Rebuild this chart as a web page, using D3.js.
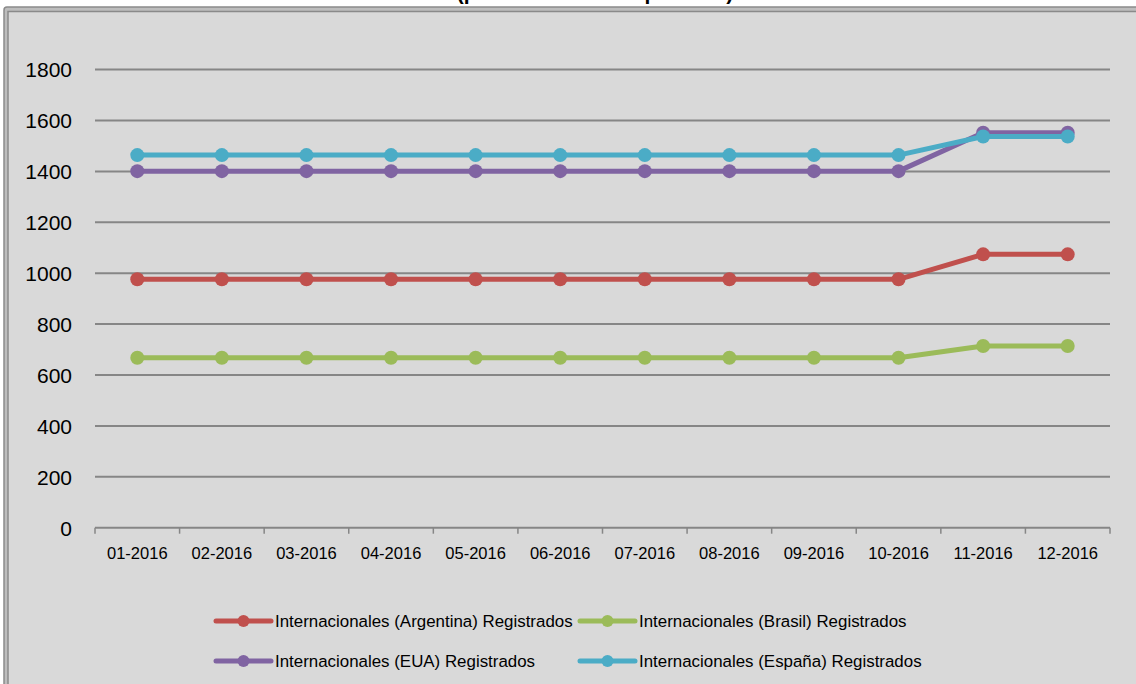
<!DOCTYPE html>
<html><head><meta charset="utf-8">
<script src="https://cdn.jsdelivr.net/npm/d3@7"></script>
<style>html,body{margin:0;padding:0;background:#fff;}svg{display:block;}</style>
</head><body>
<svg id="chart" width="1136" height="684"></svg>
<script>
const titleText = "(pesos mexicanos por mes)";
const categories = ["01-2016","02-2016","03-2016","04-2016","05-2016","06-2016","07-2016","08-2016","09-2016","10-2016","11-2016","12-2016"];
const argentina = [976,976,976,976,976,976,976,976,976,976,1074,1074];
const brasil    = [668,668,668,668,668,668,668,668,668,668,714,714];
const eua       = [1401,1401,1401,1401,1401,1401,1401,1401,1401,1401,1552,1552];
const espana    = [1464,1464,1464,1464,1464,1464,1464,1464,1464,1464,1537,1537];
const seriesNames = ["Internacionales (Argentina) Registrados","Internacionales (Brasil) Registrados","Internacionales (EUA) Registrados","Internacionales (España) Registrados"];
const yTicks = [0,200,400,600,800,1000,1200,1400,1600,1800];

const series = [
  {name: seriesNames[0], values: argentina, color: "#c0504d"},
  {name: seriesNames[1], values: brasil, color: "#9bbb59"},
  {name: seriesNames[2], values: eua, color: "#8064a2"},
  {name: seriesNames[3], values: espana, color: "#4bacc6"}
];

const svg = d3.select("#chart");
const font = "'Liberation Sans', Arial, sans-serif";

// title (mostly cut off above the frame, as in the reference)
svg.append("text").attr("x", 595).attr("y", 0).attr("text-anchor","middle")
  .attr("font-family", font).attr("font-weight","bold").attr("font-size", 21)
  .attr("fill","#000").text(titleText);

// frame
svg.append("rect").attr("x",4).attr("y",7).attr("width",1200).attr("height",720)
  .attr("rx",3).attr("fill","#bdbdbd").attr("stroke","#8a8a8a").attr("stroke-width",1.5);
svg.append("rect").attr("x",8).attr("y",11.5).attr("width",1200).attr("height",720)
  .attr("fill","#d9d9d9").attr("stroke","#8a8a8a").attr("stroke-width",1.5);

const x = d3.scaleBand().domain(categories).range([95,1110]);
const y = d3.scaleLinear().domain([0,1800]).range([527.7,69.6]);

// gridlines
svg.append("g").selectAll("line").data(yTicks.filter(d=>d>0)).join("line")
  .attr("x1",95).attr("x2",1110).attr("y1",d=>y(d)).attr("y2",d=>y(d))
  .attr("stroke","#868686").attr("stroke-width",2);

// y axis labels
const yAxis = svg.append("g").attr("transform","translate(95,0)")
  .call(d3.axisLeft(y).tickValues(yTicks).tickFormat(d3.format("d")).tickSize(0).tickPadding(23));
yAxis.select(".domain").remove();
yAxis.selectAll("text").attr("font-family",font).attr("font-size",21).attr("fill","#000").attr("dy","0.35em");

// x axis
const xAxis = svg.append("g").attr("transform",`translate(0,${y(0)})`)
  .call(d3.axisBottom(x).tickSize(0).tickPadding(20));
xAxis.select(".domain").remove();
xAxis.selectAll("text").attr("font-family",font).attr("font-size",16.5).attr("fill","#000");
svg.append("line").attr("x1",95).attr("x2",1110).attr("y1",y(0)).attr("y2",y(0))
  .attr("stroke","#868686").attr("stroke-width",2);
const bounds = categories.map(c=>x(c)).concat([x(categories[categories.length-1])+x.bandwidth()]);
svg.append("g").selectAll("line").data(bounds).join("line")
  .attr("x1",d=>d).attr("x2",d=>d).attr("y1",y(0)).attr("y2",y(0)+6)
  .attr("stroke","#868686").attr("stroke-width",1.5);

// lines
const line = d3.line().x((d,i)=>x(categories[i])+x.bandwidth()/2).y(d=>y(d));
series.forEach(s=>{
  const g = svg.append("g");
  g.append("path").attr("d",line(s.values)).attr("fill","none")
    .attr("stroke",s.color).attr("stroke-width",5).attr("stroke-linejoin","round").attr("stroke-linecap","round");
  g.selectAll("circle").data(s.values).join("circle")
    .attr("cx",(d,i)=>x(categories[i])+x.bandwidth()/2).attr("cy",d=>y(d)).attr("r",7).attr("fill",s.color);
});

// legend
const legendPos = [[216,621],[580,621],[216,661],[580,661]];
series.forEach((s,i)=>{
  const [lx,ly] = legendPos[i];
  const g = svg.append("g");
  g.append("line").attr("x1",lx).attr("x2",lx+55).attr("y1",ly).attr("y2",ly)
    .attr("stroke",s.color).attr("stroke-width",5).attr("stroke-linecap","round");
  g.append("circle").attr("cx",lx+27.5).attr("cy",ly).attr("r",6).attr("fill",s.color);
  g.append("text").attr("x",lx+59).attr("y",ly).attr("dy","0.35em")
    .attr("font-family",font).attr("font-size",16.9).attr("fill","#000").text(s.name);
});
</script>
</body></html>
